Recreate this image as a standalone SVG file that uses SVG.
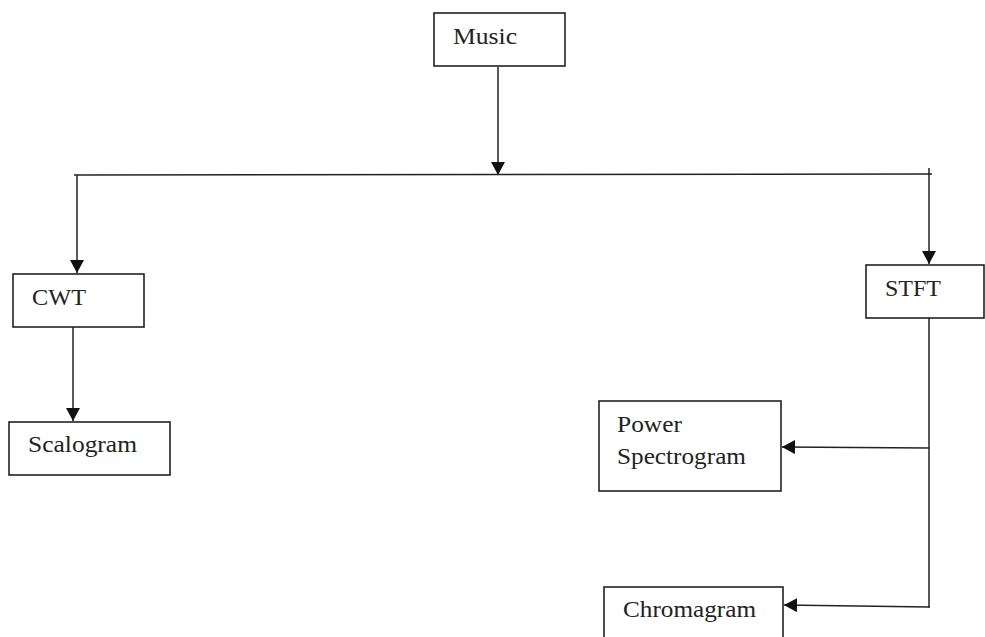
<svg xmlns="http://www.w3.org/2000/svg" width="985" height="637" viewBox="0 0 985 637">
<style>
.box{fill:#fff;stroke:#222;stroke-width:1.6}
.lbl{font-family:"Liberation Serif","Times New Roman",serif;font-size:23px;fill:#222}
.ln{fill:none;stroke:#222;stroke-width:1.5}
</style>
<defs>
<marker id="ah" markerUnits="userSpaceOnUse" markerWidth="14" markerHeight="14" refX="13" refY="7" orient="auto">
<path d="M0,0 L13,7 L0,14 Z" fill="#111"/>
</marker>
</defs>
<rect width="985" height="637" fill="#fff"/>
<g id="connectors">
<line class="ln" x1="498" y1="67" x2="498" y2="175" marker-end="url(#ah)"/>
<line class="ln" x1="74" y1="175" x2="932" y2="174"/>
<line class="ln" x1="929" y1="168" x2="929" y2="175"/>
<line class="ln" x1="77" y1="175" x2="77" y2="273" marker-end="url(#ah)"/>
<line class="ln" x1="929" y1="174" x2="929" y2="264" marker-end="url(#ah)"/>
<line class="ln" x1="73" y1="327" x2="73" y2="421" marker-end="url(#ah)"/>
<polyline class="ln" points="929,318 929,607 930,607"/>
<line class="ln" x1="929" y1="448" x2="782" y2="447" marker-end="url(#ah)"/>
<line class="ln" x1="929" y1="607" x2="784" y2="605" marker-end="url(#ah)"/>
</g>
<g id="music">
<rect class="box" x="434" y="13" width="131" height="53"/>
<text class="lbl" x="453" y="44" textLength="64" lengthAdjust="spacingAndGlyphs">Music</text>
</g>
<g id="cwt">
<rect class="box" x="13" y="274" width="131" height="53"/>
<text class="lbl" x="32" y="305" textLength="54" lengthAdjust="spacingAndGlyphs">CWT</text>
</g>
<g id="scalogram">
<rect class="box" x="9" y="422" width="161" height="53"/>
<text class="lbl" x="28" y="452" textLength="109" lengthAdjust="spacingAndGlyphs">Scalogram</text>
</g>
<g id="stft">
<rect class="box" x="866" y="265" width="118" height="53"/>
<text class="lbl" x="885" y="296" textLength="56" lengthAdjust="spacingAndGlyphs">STFT</text>
</g>
<g id="power-spectrogram">
<rect class="box" x="599" y="401" width="182" height="90"/>
<text class="lbl" x="617" y="432" textLength="65" lengthAdjust="spacingAndGlyphs">Power</text>
<text class="lbl" x="617" y="464" textLength="129" lengthAdjust="spacingAndGlyphs">Spectrogram</text>
</g>
<g id="chromagram">
<rect class="box" x="604" y="587" width="179" height="60"/>
<text class="lbl" x="623" y="617" textLength="133" lengthAdjust="spacingAndGlyphs">Chromagram</text>
</g>
</svg>
